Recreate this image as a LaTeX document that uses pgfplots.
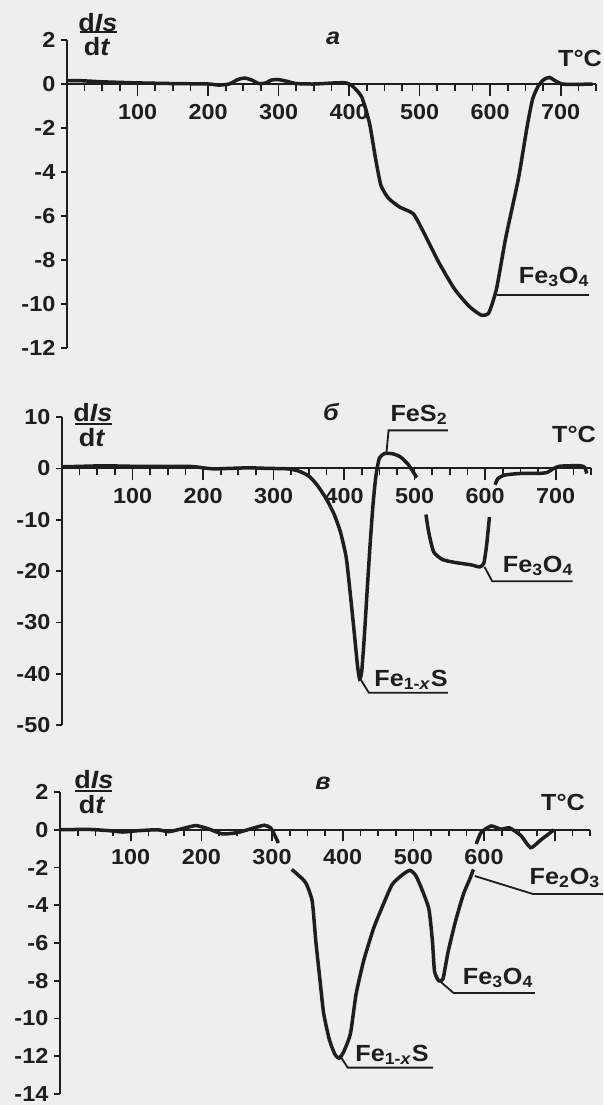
\documentclass[border=0pt]{standalone}
\usepackage{pgfplots}
\pgfplotsset{compat=1.18}
\usepackage{fontspec}
\setmainfont{Liberation Sans}[FakeStretch=1.08]
\definecolor{ink}{RGB}{30,30,30}
\definecolor{paper}{RGB}{238,238,236}
\newcommand{\tl}{\fontsize{13}{15}\selectfont\bfseries}
\newcommand{\lb}{\fontsize{14}{16}\selectfont\bfseries}
\tikzset{lead/.style={draw=ink, line width=1.1pt}}
\pgfplotsset{
 panel/.style={
  scale only axis, clip=false,
  axis x line=middle, axis y line=left,
  axis line style={-, line width=1.1pt, draw=ink},
  xmin=0, xmax=750,
  xtick={100,200,300,400,500,600,700},
  minor xtick={25,50,...,750},
  tick align=outside,
  major tick length=7pt, minor tick length=4pt,
  every tick/.style={draw=ink, line width=1pt},
  ytick=\empty,
  extra y tick style={major tick length=3.5pt, tick align=outside},
  tick label style={font=\tl, text=ink},
  xticklabel style={yshift=-1.5pt},
  anchor=south west,
 },
 curve/.style={draw=ink, line width=2.1pt, smooth, tension=0.35, unbounded coords=jump, mark=none},
}
\begin{document}
\begin{tikzpicture}
\useasboundingbox (0,0) rectangle (361.8pt,-663pt);
\fill[paper] (0,0) rectangle (361.8pt,-663pt);
\clip (0,0) rectangle (361.8pt,-663pt);

% ---------- panel a ----------
\begin{axis}[panel, at={(40.2pt,-208.8pt)}, width=317.4pt, height=184.8pt,
  ymin=-12, ymax=2,
  xticklabels={100,200,300,400,500,600,700},
  extra y ticks={2,0,-2,-4,-6,-8,-10,-12},
  extra y tick labels={2,0,-2,-4,-6,-8,-10,-12}]
\addplot[curve] coordinates {(0,0.15)(20,0.15)(50,0.1)(100,0.05)(150,0.02)(200,0)(215,-0.05)(230,0)(242,0.2)(252,0.27)(262,0.18)(272,0.02)(282,0.05)(290,0.18)(300,0.2)(312,0.12)(325,0.02)(350,0)(380,0.05)(395,0.05)(405,-0.1)(418,-0.6)(429,-1.8)(437,-3.3)(445,-4.6)(456,-5.2)(472,-5.6)(491,-5.9)(505,-6.7)(527,-8.1)(549,-9.3)(570,-10.1)(587,-10.5)(598,-10.4)(609,-9.3)(622,-7.0)(640,-4.3)(652,-2.0)(660,-0.7)(668,-0.1)(676,0.2)(684,0.3)(692,0.15)(702,0)(720,-0.02)(745,0)};
\draw[lead] (axis cs:609,-9.6) -- (axis cs:740,-9.6);
\end{axis}

% ---------- panel b ----------
\begin{axis}[panel, at={(37.2pt,-435pt)}, width=317.4pt, height=184.8pt,
  ymin=-50, ymax=10,
  xticklabels={100,200,300,400,500,600,700},
  extra y ticks={10,0,-10,-20,-30,-40,-50},
  extra y tick labels={10,0,-10,-20,-30,-40,-50}]
\addplot[curve] coordinates {(0,0.3)(30,0.4)(60,0.5)(100,0.4)(150,0.4)(185,0.35)(200,0.1)(215,-0.1)(240,0)(265,0.1)(290,0)(320,-0.1)(335,-0.5)(350,-1.5)(362,-3.3)(375,-6)(386,-9)(395,-12.5)(403,-17.4)(408,-23.5)(414,-31.5)(419,-38.5)(422,-41)(425,-39.5)(429,-32)(433,-23)(437,-14.5)(441,-7)(445,-1.5)(450,2)(458,2.9)(470,2.8)(480,2.2)(490,0.9)(497,-0.5)(503,-1.8)(508,nan)(516,-9)(520,-12.5)(527,-16.3)(540,-17.8)(560,-18.4)(580,-18.8)(592,-19.2)(598,-18.5)(602,-15)(606,-9.5)(610,nan)(614,-3.2)(618,-2.0)(628,-1.3)(650,-1.0)(675,-1.0)(688,-0.8)(696,-0.1)(705,0.4)(720,0.5)(735,0.5)(741,0.2)(744,-1.0)};
\draw[lead] (axis cs:460,3) -- (axis cs:463,7.4) -- (axis cs:547,7.4);
\draw[lead] (axis cs:599,-19.2) -- (axis cs:610,-22) -- (axis cs:724,-22);
\draw[lead] (axis cs:422,-40.8) -- (axis cs:435,-43.7) -- (axis cs:547,-43.7);
\end{axis}

% ---------- panel c ----------
\begin{axis}[panel, at={(36pt,-656.4pt)}, width=318pt, height=181.2pt,
  ymin=-14, ymax=2,
  xticklabels={100,200,300,400,500,600,{}},
  extra y ticks={2,0,-2,-4,-6,-8,-10,-12,-14},
  extra y tick labels={2,0,-2,-4,-6,-8,-10,-12,-14}]
\addplot[curve] coordinates {(0,0)(40,0.02)(70,-0.05)(89,-0.12)(110,-0.05)(138,0)(154,-0.1)(172,0.05)(192,0.22)(210,0.05)(230,-0.22)(251,-0.15)(270,0.05)(289,0.24)(298,0.1)(304,-0.3)(309,-0.7)(318,nan)(328,-2.1)(343,-2.6)(349,-2.9)(357,-3.8)(362,-5.9)(368,-8.0)(373,-9.7)(381,-11.1)(389,-11.9)(395,-12.1)(401,-11.8)(411,-10.8)(419,-8.7)(430,-6.9)(444,-5.2)(457,-4.0)(470,-2.9)(484,-2.4)(495,-2.15)(503,-2.4)(511,-3.05)(522,-4.2)(527,-5.9)(530,-7.5)(536,-8.0)(542,-7.9)(549,-6.5)(560,-4.8)(571,-3.4)(580,-2.6)(585,-2.1)(587,nan)(589,-0.75)(596,-0.14)(610,0.2)(624,0.03)(636,0.1)(652,-0.3)(666,-0.95)(680,-0.55)(694,-0.15)(699,0)};
\draw[lead] (axis cs:587,-2.45) -- (axis cs:669,-3.4) -- (axis cs:800,-3.4);
\draw[lead] (axis cs:540,-8.1) -- (axis cs:557,-8.65) -- (axis cs:672,-8.65);
\draw[lead] (axis cs:396,-11.95) -- (axis cs:407,-12.6) -- (axis cs:528,-12.6);
\end{axis}

% ---------- texts (page pixel frame) ----------
\begin{scope}[x=0.6pt,y=-0.6pt]
% panel a
\node[font=\fontsize{15}{17}\selectfont\bfseries, text=ink] at (98,23) {d\textit{Is}};
\draw[ink, line width=1.2pt] (80,32) -- (117,32);
\node[font=\fontsize{15}{17}\selectfont\bfseries, text=ink] at (97,47) {d\textit{t}};
\node[font=\lb\itshape, text=ink] at (333,38) {а};
\node[font=\lb, text=ink] at (580,58) {T°C};
\node[font=\lb, text=ink] at (554,277) {Fe\textsubscript{3}O\textsubscript{4}};
% panel b
\node[font=\fontsize{15}{17}\selectfont\bfseries, text=ink] at (93,413) {d\textit{Is}};
\draw[ink, line width=1.2pt] (75,424) -- (112,424);
\node[font=\fontsize{15}{17}\selectfont\bfseries, text=ink] at (92,438) {d\textit{t}};
\node[font=\lb\itshape, text=ink] at (331,412) {б};
\node[font=\lb, text=ink] at (574,434) {T°C};
\node[font=\lb, text=ink] at (419,415) {FeS\textsubscript{2}};
\node[font=\lb, text=ink] at (538,566) {Fe\textsubscript{3}O\textsubscript{4}};
\node[font=\lb, text=ink] at (411,680) {Fe\textsubscript{1-\textit{x}}S};
% panel c
\node[font=\fontsize{15}{17}\selectfont\bfseries, text=ink] at (94,780) {d\textit{Is}};
\draw[ink, line width=1.2pt] (75,791) -- (112,791);
\node[font=\fontsize{15}{17}\selectfont\bfseries, text=ink] at (92,805) {d\textit{t}};
\node[font=\lb\itshape, text=ink] at (323,783) {в};
\node[font=\lb, text=ink] at (563,802) {T°C};
\node[font=\lb, text=ink, anchor=east, inner sep=1pt] at (602,878) {Fe\textsubscript{2}O\textsubscript{3}};
\node[font=\lb, text=ink] at (498,978) {Fe\textsubscript{3}O\textsubscript{4}};
\node[font=\lb, text=ink] at (392,1055) {Fe\textsubscript{1-\textit{x}}S};
\end{scope}
\end{tikzpicture}
\end{document}
